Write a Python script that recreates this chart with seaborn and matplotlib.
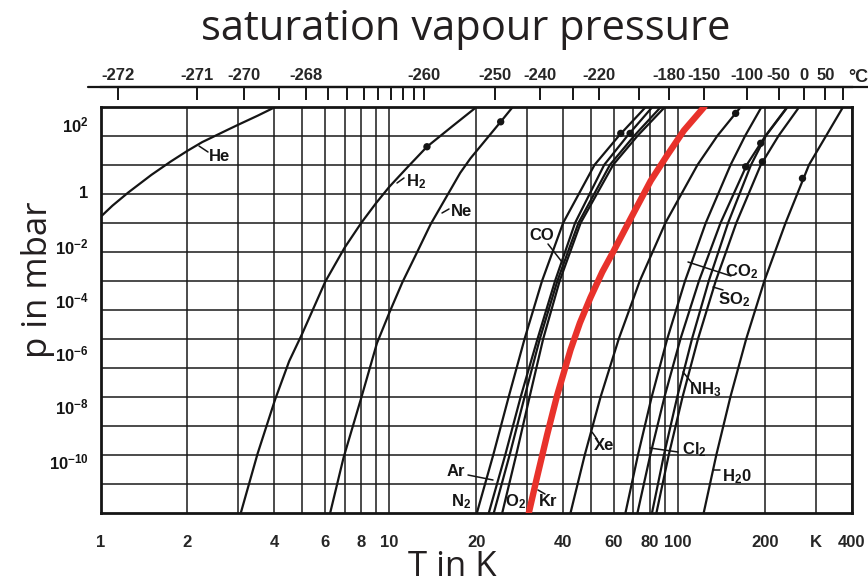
import numpy as np
import pandas as pd
import matplotlib
matplotlib.use("Agg")
import matplotlib.pyplot as plt
import seaborn as sns
from matplotlib.lines import Line2D
from matplotlib.ticker import FixedLocator, FixedFormatter, NullLocator, NullFormatter
from matplotlib.transforms import blended_transform_factory, ScaledTranslation

# ---------------- data (T in K, log10 of p in mbar) ----------------
he_T = [1.0, 1.1, 1.25, 1.5, 1.75, 2.0, 2.25, 2.5, 2.75, 3.0, 3.5, 4.05]
he_logp = [-0.8, -0.41, 0.05, 0.65, 1.11, 1.48, 1.78, 2.0, 2.2, 2.38, 2.69, 3.0]

h2_T = [3.06, 3.5, 4.02, 4.5, 5.0, 6.0, 7.0, 8.0, 9.0, 10.0, 11.5, 13.5, 16.5, 20.1]
h2_logp = [-11, -8.95, -7.1, -5.77, -4.81, -3.03, -1.86, -1.0, -0.32, 0.24, 0.89, 1.62, 2.32, 3.0]

ne_T = [6.24, 6.94, 8.04, 9.06, 10.05, 11.1, 12.5, 13.9, 17.6, 19.1, 24.3, 26.8]
ne_logp = [-11, -9.1, -6.95, -5.15, -4.05, -3.05, -2.0, -1.05, 0.72, 1.22, 2.48, 3.0]

levels = [-11, -9, -7, -5, -3, -1, 1, 2, 3]
n2_T = [20.1, 22.9, 25.9, 29.4, 33.8, 40.0, 51.4, 62.4, 77.4]
co_T = [22.1, 25.2, 28.5, 32.6, 37.5, 44.0, 55.5, 66.8, 81.6]
ar_T = [23.0, 26.1, 29.4, 33.2, 38.2, 45.2, 58.1, 70.5, 87.3]
o2_T = [24.6, 27.5, 30.6, 34.1, 38.9, 46.0, 59.6, 72.4, 90.2]
xe_T = [42.4, 47.5, 53.9, 62.3, 73.7, 90.4, 116.8, 136.8, 165.0]
co2_T = [65.7, 72.6, 81.0, 91.7, 105.7, 124.7, 152.0, 170.7, 194.7]
cl2_T = [72.3, 80.1, 89.7, 101.9, 118.1, 140.3, 173.0, 200.8, 239.0]
nh3_T = [81.2, 89.3, 99.3, 111.7, 127.7, 149.0, 178.9, 201.3, 239.8]
so2_T = [84.1, 92.8, 103.6, 117.2, 135.0, 159.1, 193.4, 222.8, 263.0]
h2o_T = [122.6, 135.6, 151.7, 172.1, 198.9, 235.6, 284.0, 325.5, 373.0]

kr_T = [30.4, 32.5, 35.2, 38.1, 42.4, 45.7, 49.7, 54.6, 59.9, 70.3, 80.4, 91.7, 104.7, 123.3]
kr_logp = [-11, -9.75, -8.30, -6.95, -5.38, -4.45, -3.58, -2.70, -1.96, -0.64, 0.45, 1.33, 2.18, 3.0]

dot_T = [13.5, 24.3, 63.3, 68.2, 158.2, 171.4, 193.2, 195.8, 269.5]
dot_logp = [1.62, 2.48, 2.08, 2.08, 2.77, 0.93, 1.74, 1.10, 0.53]

bottom_ticks = [1, 2, 4, 6, 8, 10, 20, 40, 60, 80, 100, 200, 300, 400]
bottom_labels = ["1", "2", "4", "6", "8", "10", "20", "40", "60", "80", "100", "200", "K", "400"]
grid_T = [2, 3, 4, 5, 6, 7, 8, 9, 10, 20, 30, 40, 50, 60, 70, 80, 90, 100, 200, 300]

left_exps = [2, 0, -2, -4, -6, -8, -10]
left_labels = [r"$10^{2}$", "1", r"$10^{-2}$", r"$10^{-4}$", r"$10^{-6}$", r"$10^{-8}$", r"$10^{-10}$"]

celsius_ticks = [-272, -271, -270, -269, -268, -267, -266, -265, -264, -263, -262, -261, -260,
                 -250, -240, -230, -220, -200, -180, -150, -100, -50, 0, 50, 100]
celsius_labelled = [-272, -271, -270, -268, -260, -250, -240, -220, -180, -150, -100, -50, 0, 50]

# ---------------- build long table ----------------
rows = []
def add(name, T, lp):
    for t, l in zip(T, lp):
        rows.append((name, t, 10.0 ** l))
add("He", he_T, he_logp)
add("H2", h2_T, h2_logp)
add("Ne", ne_T, ne_logp)
for nm, arr in [("N2", n2_T), ("CO", co_T), ("Ar", ar_T), ("O2", o2_T), ("Xe", xe_T),
                ("CO2", co2_T), ("Cl2", cl2_T), ("NH3", nh3_T), ("SO2", so2_T), ("H2O", h2o_T)]:
    add(nm, arr, levels)
df = pd.DataFrame(rows, columns=["gas", "T", "p"])
kr = pd.DataFrame({"T": kr_T, "p": [10.0 ** v for v in kr_logp]})
dots = pd.DataFrame({"T": dot_T, "p": [10.0 ** v for v in dot_logp]})

# ---------------- style ----------------
sns.set_theme(style="white")
plt.rcParams["font.family"] = ["Liberation Sans", "DejaVu Sans"]
plt.rcParams["mathtext.fontset"] = "custom"
plt.rcParams["mathtext.rm"] = "Liberation Sans:bold"
plt.rcParams["mathtext.bf"] = "Liberation Sans:bold"
plt.rcParams["mathtext.default"] = "rm"

W, H = 868, 583
fig = plt.figure(figsize=(W / 100, H / 100), dpi=100)
L0, R0, T0, B0 = 100.5, 852, 106.7, 513
ax = fig.add_axes([L0 / W, 1 - B0 / H, (R0 - L0) / W, (B0 - T0) / H])
ax.set_xscale("log")
ax.set_yscale("log")
ax.set_xlim(1, 400)
ax.set_ylim(1e-11, 1e3)

ink = "#151515"
for gas, sub in df.groupby("gas", sort=False):
    sns.lineplot(data=sub, x="T", y="p", ax=ax, color=ink, lw=1.6, estimator=None,
                 sort=False, legend=False)
sns.lineplot(data=kr, x="T", y="p", ax=ax, color="#e8322b", lw=4.6, estimator=None,
             sort=False, legend=False, zorder=5)
sns.scatterplot(data=dots, x="T", y="p", ax=ax, color=ink, s=28, edgecolor="none", zorder=6)

# grid
ax.xaxis.set_major_locator(FixedLocator(bottom_ticks))
ax.xaxis.set_major_formatter(FixedFormatter(bottom_labels))
ax.xaxis.set_minor_locator(FixedLocator(grid_T))
ax.xaxis.set_minor_formatter(NullFormatter())
ax.yaxis.set_major_locator(FixedLocator([10.0 ** e for e in range(-10, 3)]))
ax.yaxis.set_major_formatter(NullFormatter())
ax.yaxis.set_minor_locator(NullLocator())
ax.grid(False)
ax.grid(which="both", color="#1a1a1a", lw=1.1)
ax.set_axisbelow(True)
ax.tick_params(which="both", length=0)
ax.tick_params(axis="x", pad=16, labelsize=12)
for lab in ax.get_xticklabels():
    lab.set_fontweight("bold")
for s in ax.spines.values():
    s.set_visible(True)
    s.set_color(ink)
    s.set_linewidth(2.0)
ax.set_xlabel("")
ax.set_ylabel("")

# left decade labels (slightly raised as in the original print)
label_raise_px = [10, 0, 4, 8, 13, 18, 22]
for e, txt, dy in zip(left_exps, left_labels, label_raise_px):
    tr = blended_transform_factory(ax.transAxes, ax.transData) + \
        ScaledTranslation(-12 / 100, dy / 100, fig.dpi_scale_trans)
    ax.text(0, 10.0 ** e, txt, transform=tr, ha="right", va="center",
            fontsize=12, fontweight="bold", color=ink)

# top celsius axis
ax2 = ax.twiny()
ax2.set_xscale("log")
ax2.set_xlim(1, 400)
ax2.xaxis.set_major_locator(FixedLocator([c + 273.15 for c in celsius_ticks]))
ax2.xaxis.set_major_formatter(FixedFormatter(
    [str(c) if c in celsius_labelled else "" for c in celsius_ticks]))
ax2.xaxis.set_minor_locator(NullLocator())
for nm in ["left", "right", "bottom"]:
    ax2.spines[nm].set_visible(False)
ax2.spines["top"].set_position(("outward", 14.2))
ax2.spines["top"].set_linewidth(1.6)
ax2.spines["top"].set_color(ink)
ax2.tick_params(axis="x", direction="in", length=9, width=1.4, pad=3, labelsize=12, color=ink)
for lab in ax2.get_xticklabels():
    lab.set_fontweight("bold")
ax2.grid(False)
fig.add_artist(Line2D([88 / W, 1.0], [1 - 87 / H, 1 - 87 / H], transform=fig.transFigure,
                      color=ink, lw=1.6))
fig.text(858 / W, 1 - 77 / H, "°C", ha="center", va="center", fontsize=13, fontweight="bold")

# curve labels
def fp(x, y):
    return (x / W, 1 - y / H)

labels = [
    ("He", 220, 157, (199, 146, 208, 152)),
    (r"H$_2$", 416, 182, (397, 183, 404, 178)),
    ("Ne", 462, 211, (442, 213, 449, 209)),
    ("CO", 542, 236, (548, 244, 562, 262)),
    (r"CO$_2$", 742, 272, (688, 262, 731, 276)),
    (r"SO$_2$", 734, 300, (713, 287, 723, 290)),
    (r"NH$_3$", 705, 390, (683, 372, 692, 383)),
    ("Xe", 604, 446, (592, 432, 597, 439)),
    (r"Cl$_2$", 694, 450, (650, 448, 678, 452)),
    (r"H$_2$0", 737, 477, (713, 470, 720, 470)),
    ("Ar", 456, 472, (468, 475, 493, 480)),
    (r"N$_2$", 461, 502, None),
    (r"O$_2$", 516, 502, None),
    ("Kr", 548, 502, (538, 490, 545, 494)),
]
for txt, x, y, ld in labels:
    fig.text(*fp(x, y), txt, ha="center", va="center", fontsize=12, fontweight="bold", color=ink)
    if ld is not None:
        x0, y0, x1, y1 = ld
        fig.add_artist(Line2D([x0 / W, x1 / W], [1 - y0 / H, 1 - y1 / H],
                              transform=fig.transFigure, color=ink, lw=1.1))

# titles
fig.text(466 / W, 1 - 29 / H, "saturation vapour pressure", ha="center", va="center",
         fontsize=30, family=["Open Sans", "DejaVu Sans"], color="#231f20")
fig.text(38 / W, 1 - 280 / H, "p in mbar", ha="center", va="center", rotation=90,
         fontsize=25, family=["Open Sans", "DejaVu Sans"], color="#231f20")
fig.text(452 / W, 1 - 576 / H, "T in K", ha="center", va="baseline",
         fontsize=25, family=["Open Sans", "DejaVu Sans"], color="#231f20")

fig.savefig("out.png", dpi=100, facecolor="white")
